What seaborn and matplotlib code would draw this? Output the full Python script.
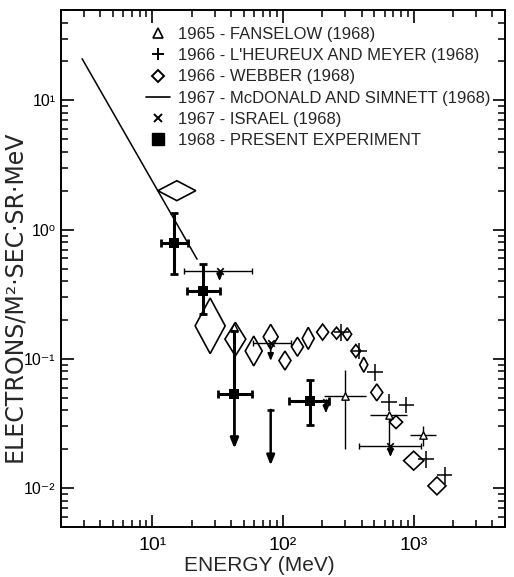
import matplotlib
matplotlib.use("Agg")
import matplotlib.pyplot as plt
from matplotlib.lines import Line2D
from matplotlib.patches import Polygon
from matplotlib.ticker import LogLocator, FuncFormatter, NullFormatter
import numpy as np
import seaborn as sns

# 1967 McDonald and Simnett spectrum (straight line)
mcd_energy = [2.9, 22.0]
mcd_flux = [21.0, 0.59]

# 1968 present experiment
pe_energy = [14.7, 24.4, 42.5, 161.0]
pe_flux = [0.785, 0.337, 0.0535, 0.0475]
pe_e_lo = [11.6, 18.4, 32.0, 112.0]
pe_e_hi = [18.6, 33.0, 58.0, 224.0]
pe_f_lo = [0.453, 0.223, 0.0535, 0.031]
pe_f_hi = [1.35, 0.541, 0.164, 0.069]
pe_arrow_from = [42.5]
pe_arrow_flux = [0.0535]
pe_arrow_to = [0.0202]
# 1968 upper limit
pe_ul_energy = [80.5]
pe_ul_top = [0.0403]
pe_ul_bottom = [0.015]

# 1967 Israel (upper limits)
isr_energy = [32.7, 80.5, 213.0, 664.0]
isr_flux = [0.475, 0.133, 0.046, 0.0212]
isr_e_lo = [17.5, 58.7, 213.0, 382.0]
isr_e_hi = [57.7, 115.0, 213.0, 1143.0]
isr_arrow_to = [0.40, 0.0966, 0.038, 0.0174]

# 1965 Fanselow
fan_energy = [42.5, 300.0, 644.0, 1178.0]
fan_flux = [0.176, 0.0513, 0.0371, 0.0259]
fan_e_lo = [42.5, 206.0, 461.0, 933.0]
fan_e_hi = [42.5, 430.0, 889.0, 1480.0]
fan_f_lo = [0.176, 0.0202, 0.021, 0.021]
fan_f_hi = [0.176, 0.0818, 0.0371, 0.030]

# 1966 L'Heureux and Meyer (crosses, half-widths in decades)
lhm_energy = [280.0, 383.0, 503.0, 647.0, 879.0, 1236.0, 1726.0]
lhm_flux = [0.161, 0.115, 0.0785, 0.046, 0.044, 0.0167, 0.0126]
lhm_dx = 0.06
lhm_dy = 0.065

# 1966 Webber (diamond error boxes, half-widths in decades)
web_energy = [15.4, 27.7, 43.2, 59.7, 80.5, 103.5, 129.0, 156.0, 201.0,
              257.0, 310.0, 361.0, 415.0, 522.0, 733.0, 1000.0, 1507.0]
web_flux = [2.0, 0.18, 0.142, 0.115, 0.148, 0.097, 0.124, 0.144, 0.161,
            0.158, 0.155, 0.115, 0.09, 0.055, 0.0324, 0.0163, 0.0104]
web_dx = [0.145, 0.115, 0.08, 0.065, 0.057, 0.046, 0.046, 0.046, 0.046,
          0.038, 0.034, 0.038, 0.031, 0.046, 0.05, 0.077, 0.069]
web_dy = [0.077, 0.215, 0.13, 0.115, 0.096, 0.073, 0.073, 0.085, 0.062,
          0.046, 0.05, 0.05, 0.058, 0.065, 0.05, 0.073, 0.069]

legend_labels = [
    "1965 - FANSELOW (1968)",
    "1966 - L'HEUREUX AND MEYER (1968)",
    "1966 - WEBBER (1968)",
    "1967 - McDONALD AND SIMNETT (1968)",
    "1967 - ISRAEL (1968)",
    "1968 - PRESENT EXPERIMENT",
]

sns.set_theme(style="ticks")
plt.rcParams["font.family"] = ["Liberation Sans Narrow", "Liberation Sans", "DejaVu Sans"]

fig = plt.figure(figsize=(5.14, 5.77), dpi=100)
ax = fig.add_axes([61 / 514, 50 / 577, 444 / 514, 517 / 577])
ax.set_xscale("log")
ax.set_yscale("log")
ax.set_xlim(2, 5000)
ax.set_ylim(0.005, 50)

k = "black"

# McDonald and Simnett line
sns.lineplot(x=mcd_energy, y=mcd_flux, ax=ax, color=k, lw=1.1)

# Webber diamonds
for e, f, dx, dy in zip(web_energy, web_flux, web_dx, web_dy):
    pts = [(e * 10 ** -dx, f), (e, f * 10 ** dy), (e * 10 ** dx, f), (e, f * 10 ** -dy)]
    ax.add_patch(Polygon(pts, closed=True, fill=False, ec=k, lw=1.2))

# L'Heureux and Meyer crosses
le = np.array(lhm_energy)
lf = np.array(lhm_flux)
ax.errorbar(le, lf,
            xerr=[le - le * 10 ** -lhm_dx, le * 10 ** lhm_dx - le],
            yerr=[lf - lf * 10 ** -lhm_dy, lf * 10 ** lhm_dy - lf],
            fmt="none", ecolor=k, elinewidth=1.1, capsize=0)

# Fanselow
fe = np.array(fan_energy)
ff = np.array(fan_flux)
ax.errorbar(fe, ff, xerr=[fe - np.array(fan_e_lo), np.array(fan_e_hi) - fe],
            yerr=[ff - np.array(fan_f_lo), np.array(fan_f_hi) - ff],
            fmt="none", ecolor=k, elinewidth=1.0, capsize=0)
sns.scatterplot(x=fan_energy, y=fan_flux, ax=ax, marker="^", s=28,
                facecolor="white", edgecolor=k, linewidth=1.0, zorder=4)

# Israel
ie = np.array(isr_energy)
ax.errorbar(ie, isr_flux, xerr=[ie - np.array(isr_e_lo), np.array(isr_e_hi) - ie],
            fmt="none", ecolor=k, elinewidth=1.0, capsize=2.5, capthick=1.0)
sns.scatterplot(x=isr_energy, y=isr_flux, ax=ax, marker="x", s=22,
                color=k, linewidth=1.2, zorder=4)
for e, f, t in zip(isr_energy, isr_flux, isr_arrow_to):
    ax.annotate("", xy=(e, t), xytext=(e, f),
                arrowprops=dict(arrowstyle="-|>,head_length=0.35,head_width=0.15",
                                color=k, lw=1.2, shrinkA=0, shrinkB=0))

# Present experiment
pe = np.array(pe_energy)
pf = np.array(pe_flux)
ax.errorbar(pe, pf, xerr=[pe - np.array(pe_e_lo), np.array(pe_e_hi) - pe],
            yerr=[pf - np.array(pe_f_lo), np.array(pe_f_hi) - pf],
            fmt="none", ecolor=k, elinewidth=2.2, capsize=3, capthick=2.0, zorder=5)
sns.scatterplot(x=pe_energy, y=pe_flux, ax=ax, marker="s", s=48,
                color=k, linewidth=0, zorder=6)
for e, f, t in zip(pe_arrow_from, pe_arrow_flux, pe_arrow_to):
    ax.annotate("", xy=(e, t), xytext=(e, f),
                arrowprops=dict(arrowstyle="-|>,head_length=0.5,head_width=0.2",
                                color=k, lw=2.0, shrinkA=0, shrinkB=0))
for e, t, b in zip(pe_ul_energy, pe_ul_top, pe_ul_bottom):
    ax.errorbar([e], [t], xerr=[[e - e * 10 ** -0.025], [e * 10 ** 0.025 - e]],
                fmt="none", ecolor=k, elinewidth=1.8, capsize=0)
    ax.annotate("", xy=(e, b), xytext=(e, t),
                arrowprops=dict(arrowstyle="-|>,head_length=0.5,head_width=0.2",
                                color=k, lw=1.8, shrinkA=0, shrinkB=0))

# axes styling
for s in ax.spines.values():
    s.set_linewidth(1.4)
    s.set_color(k)
ax.xaxis.set_major_locator(LogLocator(base=10))
ax.yaxis.set_major_locator(LogLocator(base=10))
ax.xaxis.set_minor_locator(LogLocator(base=10, subs=np.arange(2, 10)))
ax.yaxis.set_minor_locator(LogLocator(base=10, subs=np.arange(2, 10)))
sup = str.maketrans("-0123456789", "⁻⁰¹²³⁴⁵⁶⁷⁸⁹")
fmt = FuncFormatter(lambda v, p: "10" + str(int(round(np.log10(v)))).translate(sup))
ax.xaxis.set_major_formatter(fmt)
ax.yaxis.set_major_formatter(fmt)
ax.xaxis.set_minor_formatter(NullFormatter())
ax.yaxis.set_minor_formatter(NullFormatter())
ax.tick_params(which="both", direction="in", top=True, right=True, colors=k)
ax.tick_params(which="major", length=9, width=1.2)
ax.tick_params(axis="x", which="major", pad=7, labelsize=14)
ax.tick_params(axis="y", which="major", pad=4, labelsize=11.5)
ax.tick_params(which="minor", length=5, width=1.1)

ax.set_xlabel("ENERGY (MeV)", fontsize=15, family=["Liberation Sans", "DejaVu Sans"])
ax.set_ylabel("ELECTRONS/M²·SEC·SR·MeV", fontsize=17, family=["DejaVu Sans"])
ax.xaxis.set_label_coords(0.446, -0.056)
ax.yaxis.set_label_coords(-0.079, 0.447)

handles = [
    Line2D([], [], ls="none", marker="^", mfc="white", mec=k, ms=7, mew=1.2),
    Line2D([], [], ls="none", marker="+", color=k, ms=8, mew=1.4),
    Line2D([], [], ls="none", marker="D", mfc="white", mec=k, ms=6, mew=1.4),
    Line2D([], [], ls="-", color=k, lw=1.2),
    Line2D([], [], ls="none", marker="x", color=k, ms=6, mew=1.4),
    Line2D([], [], ls="none", marker="s", color=k, ms=8),
]
ax.legend(handles, legend_labels, loc="upper left", bbox_to_anchor=(0.191, 0.967),
          frameon=False, borderpad=0, borderaxespad=0, handlelength=1.44,
          handletextpad=0.5, labelspacing=0.37, fontsize=12)

plt.savefig("out.png", dpi=100)
plt.close()
